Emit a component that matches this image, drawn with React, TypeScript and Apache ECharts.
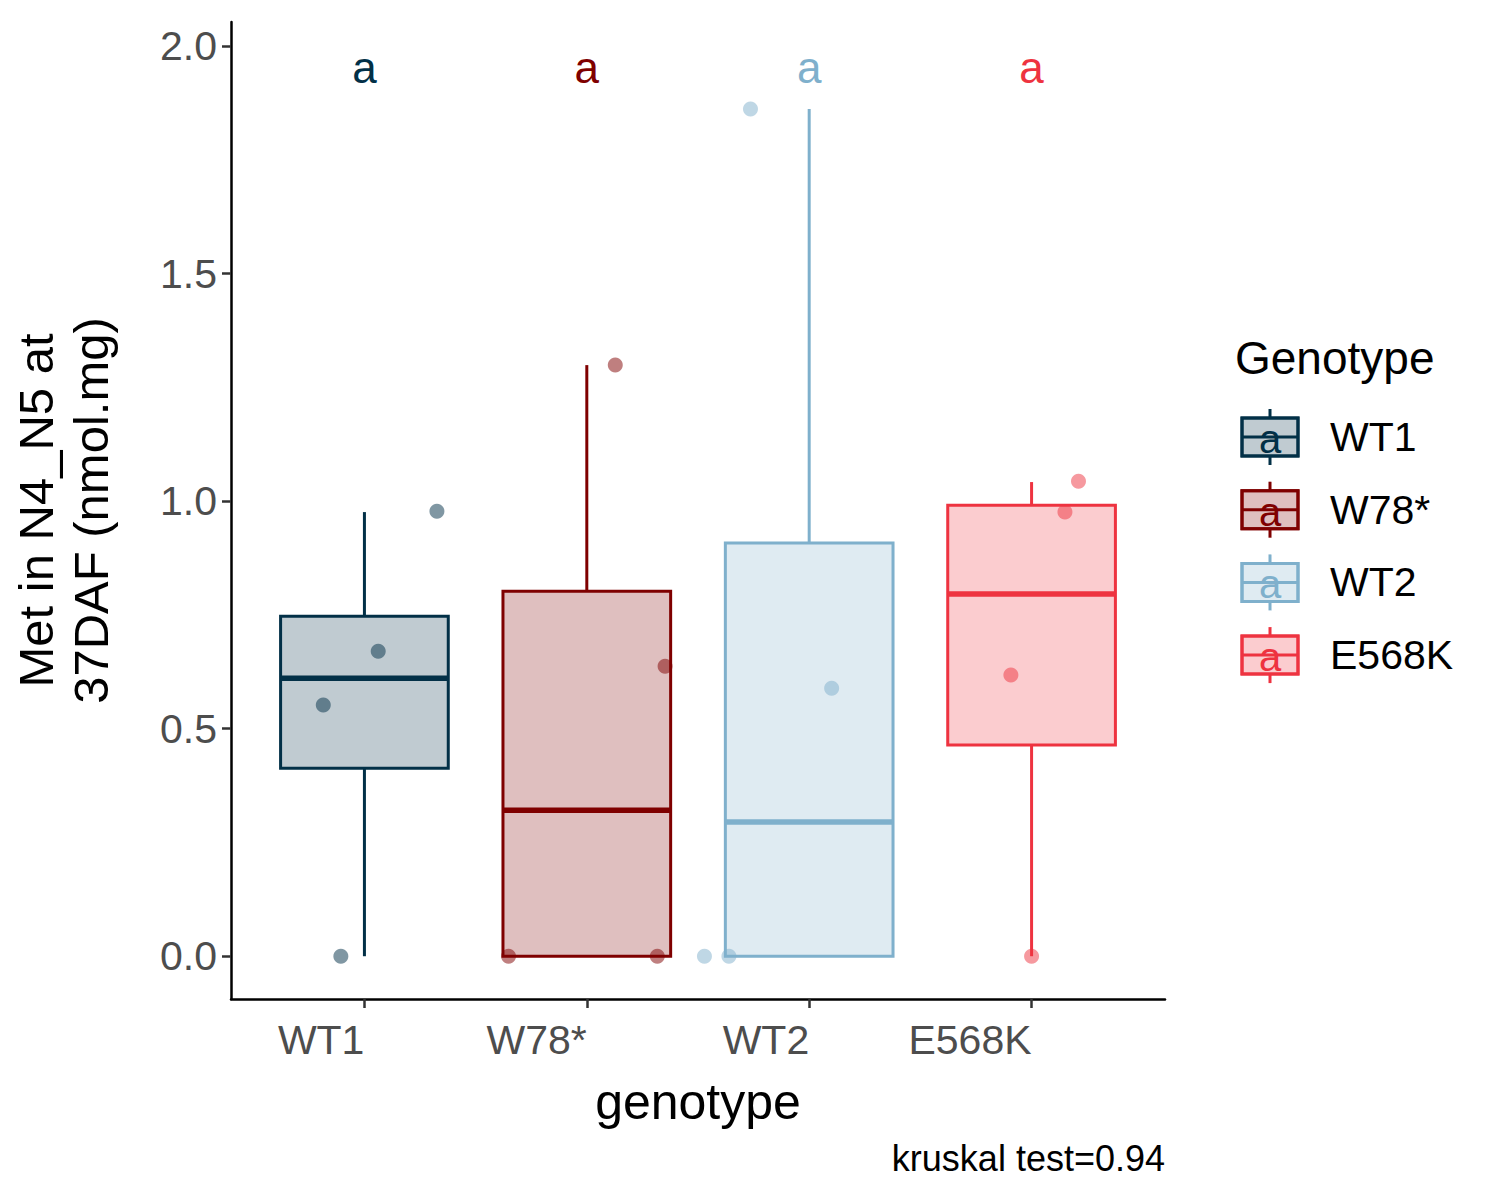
import React, { useEffect, useRef } from "react";
import * as echarts from "echarts";

const categories = ["WT1", "W78*", "WT2", "E568K"];
const colors = ["#023047", "#7f0000", "#7fb0cc", "#ee3340"];
const fills = ["rgba(2,48,71,0.25)", "rgba(127,0,0,0.25)", "rgba(127,176,204,0.25)", "rgba(238,51,64,0.25)"];
// [low, q1, median, q3, high]
const boxStats = [
  [0, 0.413, 0.611, 0.747, 0.976],
  [0, 0, 0.321, 0.802, 1.299],
  [0, 0, 0.295, 0.908, 1.862],
  [0, 0.464, 0.796, 0.991, 1.042],
];
// jittered points [x, y]
const pointsWT1 = [[0.894, 0], [0.815, 0.552], [1.062, 0.670], [1.326, 0.978]];
const pointsW78 = [[1.648, 0], [2.317, 0], [2.352, 0.637], [2.128, 1.299]];
const pointsWT2 = [[2.529, 0], [2.639, 0], [3.101, 0.589], [2.736, 1.862]];
const pointsE568K = [[4, 0], [3.907, 0.618], [4.150, 0.976], [4.211, 1.044]];
const allPoints = [pointsWT1, pointsW78, pointsWT2, pointsE568K];
const letters = ["a", "a", "a", "a"];
const yTicks = [0, 0.5, 1, 1.5, 2];

export default function App() {
  const ref = useRef<HTMLDivElement>(null);
  useEffect(() => {
    const chart = echarts.init(ref.current!, null, { renderer: "svg" });
    const boxData = boxStats.map((s, i) => [i + 1, ...s, i]);
    const legendItems: any[] = [];
    categories.forEach((c, i) => {
      const cy = 437 + i * 72.7;
      legendItems.push(
        { type: "line", shape: { x1: 1270, y1: cy - 28, x2: 1270, y2: cy + 28 }, style: { stroke: colors[i], lineWidth: 3 } },
        { type: "rect", shape: { x: 1242, y: cy - 19, width: 56, height: 38 }, style: { fill: "#fff", stroke: colors[i], lineWidth: 3 } },
        { type: "rect", shape: { x: 1242, y: cy - 19, width: 56, height: 38 }, style: { fill: fills[i], stroke: colors[i], lineWidth: 3 } },
        { type: "line", shape: { x1: 1242, y1: cy, x2: 1298, y2: cy }, style: { stroke: colors[i], lineWidth: 3 } },
        { type: "text", x: 1270, y: cy + 2, style: { text: "a", fill: colors[i], font: "40px Arial", align: "center", verticalAlign: "middle" } },
        { type: "text", x: 1330, y: cy, style: { text: c, fill: "#000", font: "41px Arial", verticalAlign: "middle" } }
      );
    });
    chart.setOption({
      animation: false,
      grid: { left: 213, right: 335, top: 22, bottom: 201 },
      xAxis: {
        type: "value", min: 0.4, max: 4.6,
        splitLine: { show: false },
        axisLine: { onZero: false, lineStyle: { color: "#000", width: 2.5 } },
        axisTick: { customValues: [1, 2, 3, 4], length: 9, lineStyle: { color: "#333", width: 2.5 } },
        axisLabel: {
          customValues: [1, 2, 3, 4], formatter: (v: number) => categories[Math.round(v) - 1],
          align: "right", margin: 20, fontSize: 41, color: "#4d4d4d", fontFamily: "Arial",
        },
        name: "genotype", nameLocation: "middle", nameGap: 78,
        nameTextStyle: { fontSize: 50, color: "#000", fontFamily: "Arial" },
      },
      yAxis: {
        type: "value", min: -0.094, max: 2.053,
        splitLine: { show: false },
        axisLine: { onZero: false, lineStyle: { color: "#000", width: 2.5 } },
        axisTick: { customValues: yTicks, length: 9, lineStyle: { color: "#333", width: 2.5 } },
        axisLabel: { customValues: yTicks, formatter: (v: number) => v.toFixed(1), fontSize: 41, color: "#4d4d4d", fontFamily: "Arial", margin: 14 },
        name: "Met in N4_N5 at\n37DAF (nmol.mg)", nameLocation: "middle", nameGap: 113,
        nameTextStyle: { fontSize: 49, color: "#000", fontFamily: "Arial", lineHeight: 55 },
      },
      series: [
        {
          type: "custom",
          data: boxData,
          renderItem: (params: any, api: any) => {
            const x = api.value(0), lo = api.value(1), q1 = api.value(2), md = api.value(3), q3 = api.value(4), hi = api.value(5);
            const i = api.value(6);
            const hw = 0.377;
            const pL = api.coord([x - hw, q3]);
            const pR = api.coord([x + hw, q1]);
            const c = api.coord([x, md]);
            const yLo = api.coord([x, lo])[1], yHi = api.coord([x, hi])[1];
            const yQ1 = api.coord([x, q1])[1], yQ3 = api.coord([x, q3])[1];
            const col = colors[i];
            return {
              type: "group",
              children: [
                { type: "line", shape: { x1: c[0], y1: yHi, x2: c[0], y2: yQ3 }, style: { stroke: col, lineWidth: 3 } },
                { type: "line", shape: { x1: c[0], y1: yQ1, x2: c[0], y2: yLo }, style: { stroke: col, lineWidth: 3 } },
                { type: "rect", shape: { x: pL[0], y: pL[1], width: pR[0] - pL[0], height: pR[1] - pL[1] }, style: { fill: fills[i], stroke: col, lineWidth: 3 } },
                { type: "line", shape: { x1: pL[0], y1: c[1], x2: pR[0], y2: c[1] }, style: { stroke: col, lineWidth: 5.5 } },
                { type: "text", x: c[0], y: api.coord([x, 1.952])[1], style: { text: letters[i], fill: col, font: "44px Arial", align: "center", verticalAlign: "middle" } },
              ],
            };
          },
        },
        ...allPoints.map((pts, i) => ({
          type: "scatter", data: pts, symbolSize: 15,
          itemStyle: { color: colors[i], opacity: 0.5 },
        })),
      ],
      graphic: [
        { type: "text", x: 1165, y: 1158, style: { text: "kruskal test=0.94", fill: "#000", font: "36px Arial", align: "right", verticalAlign: "middle" } },
        { type: "text", x: 1235, y: 358, style: { text: "Genotype", fill: "#000", font: "46px Arial", verticalAlign: "middle" } },
        ...legendItems,
      ],
    });
    return () => chart.dispose();
  }, []);
  return <div ref={ref} style={{ width: 1500, height: 1200, margin: -8 }} />;
}
